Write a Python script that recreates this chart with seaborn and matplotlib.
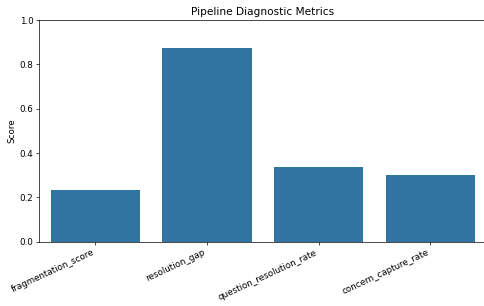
import matplotlib
matplotlib.use("Agg")
import matplotlib.pyplot as plt
import pandas as pd
import seaborn as sns

metrics = ["fragmentation_score", "resolution_gap", "question_resolution_rate", "concern_capture_rate"]
scores = [0.235, 0.875, 0.335, 0.30]

df = pd.DataFrame({"metric": metrics, "score": scores})

DPI = 62.7
fig = plt.figure(figsize=(7.72, 4.881), dpi=DPI)
ax = fig.add_axes([0.0816, 0.210, 1.004 - 0.0816, 0.9346 - 0.210])
sns.barplot(data=df, x="metric", y="score", ax=ax)
ax.set_ylim(0, 1.0)
ax.set_title("Pipeline Diagnostic Metrics")
ax.set_xlabel("")
ax.set_ylabel("Score")
plt.setp(ax.get_xticklabels(), rotation=25, ha="right")
fig.savefig("out.png", dpi=DPI)
plt.close(fig)
